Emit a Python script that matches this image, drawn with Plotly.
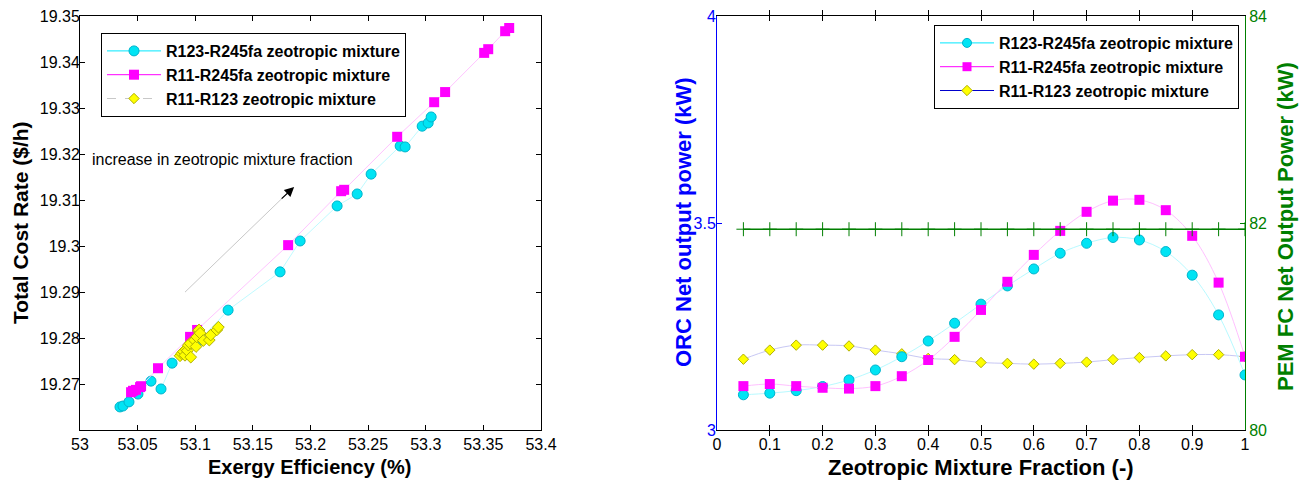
import plotly.graph_objects as go

# ---------------- Left chart data ----------------
r123_245_eff = [53.0347, 53.0373, 53.0425, 53.0503, 53.0616, 53.0703, 53.0799, 53.1042, 53.1285, 53.1736,
                53.1910, 53.2231, 53.2405, 53.2526, 53.2778, 53.2821, 53.2969, 53.3021, 53.3047]
r123_245_cost = [19.2652, 19.2654, 19.2663, 19.2680, 19.2708, 19.2691, 19.2747, 19.2797, 19.2862, 19.2945,
                 19.3012, 19.3088, 19.3114, 19.3157, 19.3218, 19.3216, 19.3261, 19.3268, 19.3281]

r11_245_eff = [53.0443, 53.0460, 53.0486, 53.0521, 53.0530, 53.0677, 53.0955, 53.1016, 53.1806, 53.2266,
               53.2292, 53.2752, 53.3073, 53.3168, 53.3507, 53.3542, 53.3689, 53.3724]
r11_245_cost = [19.2684, 19.2687, 19.2689, 19.2695, 19.2697, 19.2736, 19.2804, 19.2819, 19.3003, 19.3120,
                19.3123, 19.3238, 19.3313, 19.3335, 19.3420, 19.3428, 19.3467, 19.3474]

r11_123_eff = [53.0868, 53.0883, 53.0897, 53.0911, 53.0920, 53.0931, 53.0940, 53.0955, 53.0961, 53.0992,
               53.1007, 53.1013, 53.1027, 53.1033, 53.1042, 53.1070, 53.1122, 53.1134, 53.1187, 53.1201]
r11_123_cost = [19.2763, 19.2768, 19.2772, 19.2764, 19.2777, 19.2774, 19.2786, 19.2790, 19.2760, 19.2797,
                19.2783, 19.2804, 19.2817, 19.2819, 19.2812, 19.2796, 19.2797, 19.2808, 19.2819, 19.2825]

left_xticks = [53, 53.05, 53.1, 53.15, 53.2, 53.25, 53.3, 53.35, 53.4]
left_xticktext = ["53", "53.05", "53.1", "53.15", "53.2", "53.25", "53.3", "53.35", "53.4"]
left_yticks = [19.27, 19.28, 19.29, 19.30, 19.31, 19.32, 19.33, 19.34, 19.35]
left_yticktext = ["19.27", "19.28", "19.29", "19.3", "19.31", "19.32", "19.33", "19.34", "19.35"]

# ---------------- Right chart data ----------------
fraction = [0.05, 0.1, 0.15, 0.2, 0.25, 0.3, 0.35, 0.4, 0.45, 0.5,
            0.55, 0.6, 0.65, 0.7, 0.75, 0.8, 0.85, 0.9, 0.95, 1.0]
orc_r123_245 = [3.085, 3.089, 3.095, 3.105, 3.121, 3.145, 3.177, 3.215, 3.258, 3.304,
                3.348, 3.389, 3.427, 3.451, 3.465, 3.459, 3.431, 3.374, 3.278, 3.133]
orc_r11_245 = [3.106, 3.111, 3.106, 3.102, 3.100, 3.106, 3.130, 3.169, 3.225, 3.290,
               3.358, 3.423, 3.481, 3.527, 3.554, 3.556, 3.531, 3.469, 3.356, 3.177]
orc_r11_123 = [3.171, 3.193, 3.205, 3.205, 3.203, 3.193, 3.184, 3.173, 3.170, 3.163,
               3.161, 3.159, 3.161, 3.164, 3.170, 3.175, 3.179, 3.182, 3.182, 3.177]
pemfc_power = [81.94] * 20

right_xticks = [0, 0.1, 0.2, 0.3, 0.4, 0.5, 0.6, 0.7, 0.8, 0.9, 1.0]
right_xticktext = ["0", "0.1", "0.2", "0.3", "0.4", "0.5", "0.6", "0.7", "0.8", "0.9", "1"]
orc_ticks = [3, 3.5, 4]
orc_ticktext = ["3", "3.5", "4"]
pem_ticks = [80, 82, 84]
pem_ticktext = ["80", "82", "84"]

names = ["R123-R245fa zeotropic mixture", "R11-R245fa zeotropic mixture", "R11-R123 zeotropic mixture"]

FONT = "Liberation Sans, Arial, sans-serif"
CYAN = "#00E4F4"
CYAN_EDGE = "#00B4CC"
MAG = "#FF00FF"
YEL = "#FFFF00"
YEL_EDGE = "#B0B000"
GREEN = "#007F00"

def sort_xy(x, y):
    pairs = sorted(zip(x, y))
    return [p[0] for p in pairs], [p[1] for p in pairs]

fig = go.Figure()

# ---- Left plot traces ----
x, y = sort_xy(r123_245_eff, r123_245_cost)
fig.add_trace(go.Scatter(x=x, y=y, mode="lines+markers", showlegend=False,
                         line=dict(color="#C0FBFF", width=1),
                         marker=dict(symbol="circle", size=10, color=CYAN, line=dict(color=CYAN_EDGE, width=1)),
                         xaxis="x", yaxis="y"))
x, y = sort_xy(r11_245_eff, r11_245_cost)
fig.add_trace(go.Scatter(x=x, y=y, mode="lines+markers", showlegend=False,
                         line=dict(color="#FFC4FF", width=1),
                         marker=dict(symbol="square", size=10, color=MAG),
                         xaxis="x", yaxis="y"))
x, y = sort_xy(r11_123_eff, r11_123_cost)
fig.add_trace(go.Scatter(x=x, y=y, mode="lines+markers", showlegend=False,
                         line=dict(color="#D0D0D0", width=1, dash="dash"),
                         marker=dict(symbol="diamond", size=9, color=YEL, line=dict(color=YEL_EDGE, width=1)),
                         xaxis="x", yaxis="y"))

# left legend entries
fig.add_trace(go.Scatter(x=[None], y=[None], mode="lines+markers", name=names[0], legend="legend",
                         legendgroup="a1", line=dict(color="#00E8FF", width=1),
                         marker=dict(symbol="circle", size=10, color=CYAN, line=dict(color=CYAN_EDGE, width=1)),
                         xaxis="x", yaxis="y"))
fig.add_trace(go.Scatter(x=[None], y=[None], mode="lines+markers", name=names[1], legend="legend",
                         legendgroup="a2", line=dict(color=MAG, width=1),
                         marker=dict(symbol="square", size=10, color=MAG),
                         xaxis="x", yaxis="y"))
fig.add_trace(go.Scatter(x=[None], y=[None], mode="lines+markers", name=names[2], legend="legend",
                         legendgroup="a3", line=dict(color="#C8C8C8", width=1, dash="dash"),
                         marker=dict(symbol="diamond", size=8, color=YEL, line=dict(color=YEL_EDGE, width=1)),
                         xaxis="x", yaxis="y"))

# ---- Right plot traces ----
fig.add_trace(go.Scatter(x=fraction, y=pemfc_power, mode="lines+markers", showlegend=False,
                         line=dict(color=GREEN, width=1.5),
                         marker=dict(symbol="cross-thin", size=10, color=GREEN, line=dict(color=GREEN, width=1)),
                         xaxis="x2", yaxis="y3"))
fig.add_trace(go.Scatter(x=fraction, y=orc_r11_123, mode="lines+markers", showlegend=False,
                         line=dict(color="#C8C8F4", width=1, shape="spline"),
                         marker=dict(symbol="diamond", size=8, color=YEL, line=dict(color=YEL_EDGE, width=1)),
                         xaxis="x2", yaxis="y2"))
fig.add_trace(go.Scatter(x=fraction, y=orc_r123_245, mode="lines+markers", showlegend=False,
                         line=dict(color="#B8FAFF", width=1, shape="spline"),
                         marker=dict(symbol="circle", size=10, color=CYAN, line=dict(color=CYAN_EDGE, width=1)),
                         xaxis="x2", yaxis="y2"))
fig.add_trace(go.Scatter(x=fraction, y=orc_r11_245, mode="lines+markers", showlegend=False,
                         line=dict(color="#FFC0FF", width=1, shape="spline"),
                         marker=dict(symbol="square", size=10, color=MAG),
                         xaxis="x2", yaxis="y2"))

# right legend entries
fig.add_trace(go.Scatter(x=[None], y=[None], mode="lines+markers", name=names[0], legend="legend2",
                         legendgroup="b1", line=dict(color="#00E8FF", width=1),
                         marker=dict(symbol="circle", size=9, color=CYAN, line=dict(color=CYAN_EDGE, width=1)),
                         xaxis="x2", yaxis="y2"))
fig.add_trace(go.Scatter(x=[None], y=[None], mode="lines+markers", name=names[1], legend="legend2",
                         legendgroup="b2", line=dict(color=MAG, width=1),
                         marker=dict(symbol="square", size=9, color=MAG),
                         xaxis="x2", yaxis="y2"))
fig.add_trace(go.Scatter(x=[None], y=[None], mode="lines+markers", name=names[2], legend="legend2",
                         legendgroup="b3", line=dict(color="#0000CC", width=1),
                         marker=dict(symbol="diamond", size=8, color=YEL, line=dict(color=YEL_EDGE, width=1)),
                         xaxis="x2", yaxis="y2"))

W, H = 1306, 484
def px_x(p):
    return p / W
def px_y(p):
    return 1 - p / H

TICK_SIZE = 16
tickfont = dict(family=FONT, size=TICK_SIZE, color="black")
common_axis = dict(showgrid=False, zeroline=False, ticks="inside", ticklen=5, tickwidth=1,
                   automargin=False, linewidth=1)

legend_font = dict(family=FONT, size=16, color="black", weight="bold")

fig.update_layout(
    width=W, height=H,
    margin=dict(l=0, r=0, t=0, b=0),
    paper_bgcolor="white", plot_bgcolor="white",
    font=dict(family=FONT, size=14, color="black"),
    xaxis=dict(domain=[px_x(80), px_x(541)], range=[53, 53.4], tickvals=left_xticks, ticktext=left_xticktext,
               anchor="y", mirror="allticks", showline=True, linecolor="black", tickcolor="black",
               tickfont=tickfont, **common_axis),
    yaxis=dict(domain=[px_y(430), px_y(16)], range=[19.2602, 19.35], tickvals=left_yticks, ticktext=left_yticktext,
               anchor="x", mirror="allticks", showline=True, linecolor="black", tickcolor="black",
               tickfont=tickfont, ticklabelstandoff=-4, **common_axis),
    xaxis2=dict(domain=[px_x(717), px_x(1245)], range=[0, 1], tickvals=right_xticks, ticktext=right_xticktext,
                anchor="y2", mirror="allticks", showline=True, linecolor="black", tickcolor="black",
                tickfont=tickfont, **common_axis),
    yaxis2=dict(domain=[px_y(430), px_y(16)], range=[3, 4], tickvals=orc_ticks, ticktext=orc_ticktext,
                anchor="x2", showline=True, linecolor="#0000FF", tickcolor="#0000FF",
                tickfont=dict(family=FONT, size=TICK_SIZE, color="#0000FF"), ticklabelstandoff=-3, **common_axis),
    yaxis3=dict(domain=[px_y(430), px_y(16)], range=[80, 84], tickvals=pem_ticks, ticktext=pem_ticktext,
                anchor="x2", overlaying="y2", side="right", showline=True, linecolor=GREEN, tickcolor=GREEN,
                tickfont=dict(family=FONT, size=TICK_SIZE, color=GREEN), **common_axis),
    legend=dict(x=px_x(101), y=px_y(33), xanchor="left", yanchor="top", bgcolor="white",
                bordercolor="black", borderwidth=1, tracegroupgap=0,
                font=legend_font, itemwidth=54),
    legend2=dict(x=px_x(934), y=px_y(25), xanchor="left", yanchor="top", bgcolor="white",
                 bordercolor="black", borderwidth=1, tracegroupgap=0,
                 font=legend_font, itemwidth=54),
)

# arrow (gray shaft + black head) on left plot
fig.add_shape(type="line", xref="x", yref="y", x0=53.0911, y0=19.2901, x1=53.1830, y1=19.3123,
              line=dict(color="#C8C8C8", width=1))
fig.add_annotation(xref="x", yref="y", x=53.1858, y=19.3129, ax=-14, ay=13, text="", showarrow=True,
                   arrowhead=2, arrowsize=1.6, arrowwidth=1.2, arrowcolor="black")
fig.add_annotation(xref="x", yref="y", x=53.0087, y=19.3188, text="increase in zeotropic mixture fraction",
                   showarrow=False, xanchor="left", yanchor="middle",
                   font=dict(family=FONT, size=16, color="black"))

# axis titles
TITLE_SIZE = 22
title_font = dict(family=FONT, size=TITLE_SIZE, color="black", weight="bold")
fig.add_annotation(xref="paper", yref="paper", x=px_x(309), y=px_y(467), text="Exergy Efficiency (%)",
                   showarrow=False, xanchor="center", yanchor="middle",
                   font=dict(family=FONT, size=20, color="black", weight="bold"))
fig.add_annotation(xref="paper", yref="paper", x=px_x(20), y=px_y(223), text="Total Cost Rate ($/h)",
                   showarrow=False, xanchor="center", yanchor="middle", textangle=-90,
                   font=dict(family=FONT, size=21, color="black", weight="bold"))
fig.add_annotation(xref="paper", yref="paper", x=px_x(981), y=px_y(467), text="Zeotropic Mixture Fraction (-)",
                   showarrow=False, xanchor="center", yanchor="middle", font=title_font)
fig.add_annotation(xref="paper", yref="paper", x=px_x(683), y=px_y(222), text="ORC Net output power (kW)",
                   showarrow=False, xanchor="center", yanchor="middle", textangle=-90,
                   font=dict(family=FONT, size=TITLE_SIZE, color="#0000FF", weight="bold"))
fig.add_annotation(xref="paper", yref="paper", x=px_x(1285), y=px_y(227), text="PEM FC Net Output Power (kW)",
                   showarrow=False, xanchor="center", yanchor="middle", textangle=-90,
                   font=dict(family=FONT, size=TITLE_SIZE, color=GREEN, weight="bold"))

fig.write_html("out.html")
